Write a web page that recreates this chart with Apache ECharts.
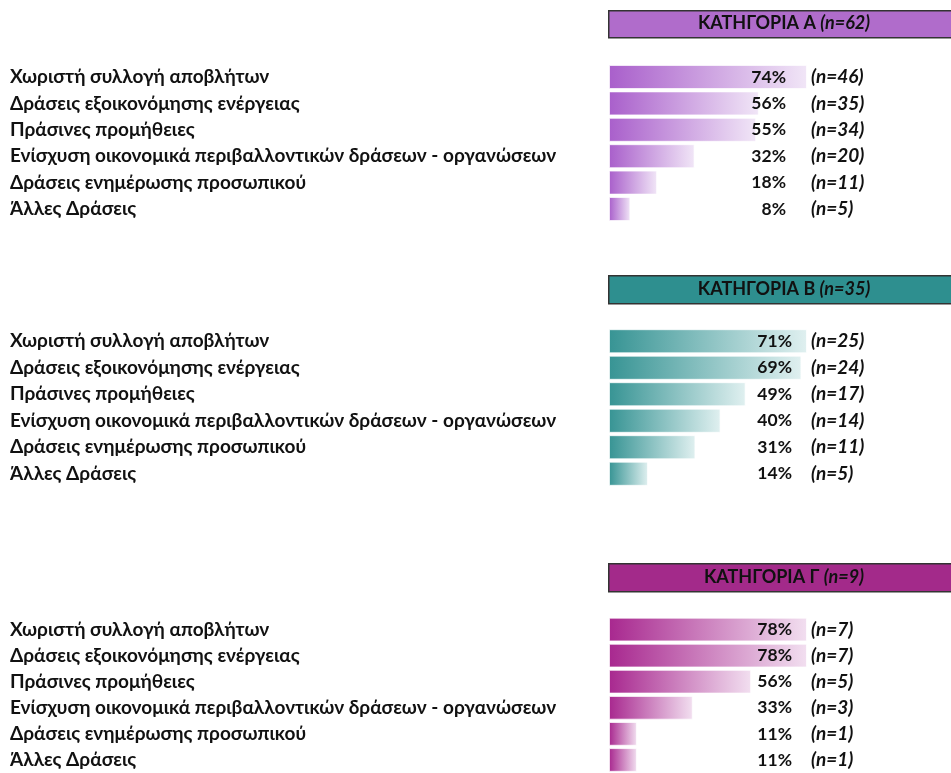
<!DOCTYPE html>
<html>
<head>
<meta charset="utf-8">
<script src="https://cdn.jsdelivr.net/npm/echarts@6/dist/echarts.min.js"></script>
<style>
html,body{margin:0;padding:0;background:#fff;}
#main{width:951px;height:773px;}
</style>
</head>
<body>
<div id="main"></div>
<script>
const categories = [
  'Χωριστή συλλογή αποβλήτων',
  'Δράσεις εξοικονόμησης ενέργειας',
  'Πράσινες προμήθειες',
  'Ενίσχυση οικονομικά περιβαλλοντικών δράσεων - οργανώσεων',
  'Δράσεις ενημέρωσης προσωπικού',
  'Άλλες Δράσεις'
];
const titles = ['ΚΑΤΗΓΟΡΙΑ Α', 'ΚΑΤΗΓΟΡΙΑ Β', 'ΚΑΤΗΓΟΡΙΑ Γ'];
const totals = [62, 35, 9];
const pctA = [74, 56, 55, 32, 18, 8];
const nA = [46, 35, 34, 20, 11, 5];
const pctB = [71, 69, 49, 40, 31, 14];
const nB = [25, 24, 17, 14, 11, 5];
const pctC = [78, 78, 56, 33, 11, 11];
const nC = [7, 7, 5, 3, 1, 1];

const pcts = [pctA, pctB, pctC];
const ns = [nA, nB, nC];

const FONT = 'Lato, "Open Sans", sans-serif';
const panels = [
  { gridTop: 63.8, gridH: 158.4, headTop: 10, headH: 27, head: '#b06ccb', c0: '#a95fcb', c1: '#f1e6f7', pctX: 786 },
  { gridTop: 328, gridH: 159, headTop: 275, headH: 28, head: '#2e8f8f', c0: '#379494', c1: '#e0f0f0', pctX: 792 },
  { gridTop: 616.5, gridH: 159, headTop: 563, headH: 28, head: '#a32a8a', c0: '#a8288f', c1: '#f2dff0', pctX: 792 }
];
const GL = 609, GW = 198;

const grid = [], xAxis = [], yAxis = [], series = [], graphic = [];
panels.forEach((p, i) => {
  grid.push({ left: GL, width: GW, top: p.gridTop, height: p.gridH, containLabel: false });
  xAxis.push({ gridIndex: i, type: 'value', min: 0, max: 'dataMax', show: false });
  const base = { gridIndex: i, type: 'category', data: categories, inverse: true,
    axisLine: { show: false }, axisTick: { show: false }, splitLine: { show: false } };
  // category names
  yAxis.push(Object.assign({}, base, { position: 'left', offset: 0,
    axisLabel: { margin: GL - 10, align: 'left', fontFamily: FONT, fontWeight: 'bold', fontSize: 19, color: '#111' } }));
  // percentages
  yAxis.push(Object.assign({}, base, { position: 'left', offset: GL - p.pctX, z: 10,
    axisLabel: { margin: 0, align: 'right', fontFamily: FONT, fontWeight: 'bold', fontSize: 17.5, color: '#111',
      formatter: (v, idx) => pcts[i][idx] + '%' } }));
  // n counts
  yAxis.push(Object.assign({}, base, { position: 'right', offset: 0,
    axisLabel: { margin: 4, align: 'left', fontFamily: FONT, fontWeight: 'bold', fontStyle: 'italic', fontSize: 19, color: '#111',
      formatter: (v, idx) => '(n=' + ns[i][idx] + ')' } }));
  series.push({
    type: 'bar', xAxisIndex: i, yAxisIndex: i * 3, data: pcts[i],
    barCategoryGap: '9%',
    itemStyle: {
      color: new echarts.graphic.LinearGradient(0, 0, 1, 0, [
        { offset: 0, color: p.c0 }, { offset: 1, color: p.c1 }
      ]),
      borderColor: 'rgba(255,255,255,0.7)', borderWidth: 1
    },
    silent: true
  });
  graphic.push({
    type: 'rect', left: 608, top: p.headTop, z: 1,
    shape: { width: 360, height: p.headH },
    style: { fill: p.head, stroke: '#333', lineWidth: 1.5 }
  });
  graphic.push({
    type: 'text', x: 784, y: p.headTop + p.headH / 2, z: 2,
    style: {
      text: '{b|' + titles[i] + ' }{i|(n=' + totals[i] + ')}',
      align: 'center', verticalAlign: 'middle',
      rich: {
        b: { fontFamily: FONT, fontWeight: 'bold', fontSize: 18, fill: '#111' },
        i: { fontFamily: FONT, fontWeight: 'bold', fontStyle: 'italic', fontSize: 18, fill: '#111' }
      }
    }
  });
});

const chart = echarts.init(document.getElementById('main'), null, { renderer: 'canvas' });
chart.setOption({ animation: false, grid, xAxis, yAxis, series, graphic });
</script>
</body>
</html>
